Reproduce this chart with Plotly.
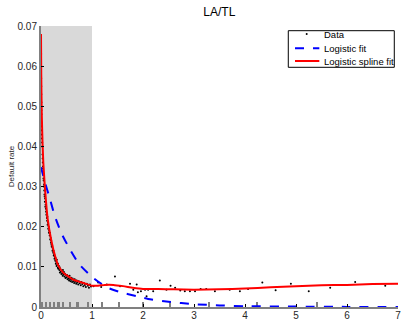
import plotly.graph_objects as go

# ---- data ----
data_x = [0.001, 0.002, 0.003, 0.004, 0.005, 0.006, 0.007, 0.008, 0.010, 0.012,
          0.014, 0.016, 0.018, 0.020, 0.023, 0.026, 0.029, 0.032, 0.035, 0.038,
          0.041, 0.044, 0.048, 0.052, 0.056, 0.060, 0.064, 0.068, 0.072, 0.076,
          0.080, 0.085, 0.090, 0.095, 0.100, 0.105, 0.110, 0.115, 0.120, 0.125,
          0.130, 0.137, 0.142, 0.150, 0.155, 0.160, 0.170, 0.175, 0.180, 0.190,
          0.195, 0.200, 0.205, 0.210, 0.220, 0.225, 0.230, 0.240, 0.245, 0.250,
          0.260, 0.265, 0.270, 0.280, 0.285, 0.290, 0.300, 0.305, 0.310, 0.320,
          0.330, 0.335, 0.340, 0.350, 0.360, 0.365, 0.370, 0.380, 0.390, 0.400,
          0.410, 0.420, 0.425, 0.430, 0.440, 0.450, 0.460, 0.470, 0.480, 0.490,
          0.500, 0.510, 0.520, 0.530, 0.540, 0.550, 0.560, 0.570, 0.580, 0.590,
          0.600, 0.610, 0.620, 0.635, 0.650, 0.660, 0.670, 0.690, 0.700, 0.710,
          0.730, 0.740, 0.760, 0.780, 0.790, 0.810, 0.830, 0.840, 0.860, 0.880,
          0.900, 0.920, 0.940, 0.960, 0.980,
          1.03, 1.12, 1.18, 1.29, 1.45, 1.55, 1.745, 1.81, 1.876, 1.90, 1.96,
          2.04, 2.07, 2.10, 2.20, 2.22, 2.33, 2.46, 2.54, 2.63, 2.73, 2.82,
          2.92, 3.02, 3.13, 3.24, 3.41, 3.70, 3.90, 4.06, 4.34, 4.60, 4.90,
          5.25, 5.67, 6.16, 6.75]
data_y = [0.067, 0.063, 0.060, 0.057, 0.055, 0.053, 0.051, 0.049, 0.048, 0.046,
          0.045, 0.044, 0.043, 0.042, 0.041, 0.040, 0.038, 0.037, 0.036, 0.035,
          0.0345, 0.033, 0.032, 0.0315, 0.030, 0.0305, 0.029, 0.028, 0.0275, 0.0262,
          0.027, 0.025, 0.0255, 0.0245, 0.0238, 0.0230, 0.0235, 0.0222, 0.0215, 0.0225,
          0.0205, 0.0210, 0.0195, 0.0200, 0.0185, 0.0190, 0.0178, 0.0185, 0.0168, 0.0172,
          0.0160, 0.0165, 0.0155, 0.0150, 0.0152, 0.0140, 0.0145, 0.0135, 0.0140, 0.0128,
          0.0130, 0.0120, 0.0125, 0.0115, 0.0122, 0.0108, 0.0112, 0.0102, 0.0118, 0.0105,
          0.0098, 0.0108, 0.0095, 0.0102, 0.0092, 0.0099, 0.0086, 0.0094, 0.0088, 0.0082,
          0.0090, 0.0085, 0.0078, 0.0092, 0.0081, 0.0087, 0.0076, 0.0083, 0.0072, 0.0079,
          0.0074, 0.0080, 0.0069, 0.0076, 0.0071, 0.0066, 0.0078, 0.0070, 0.0064, 0.0073,
          0.0068, 0.0062, 0.0071, 0.0065, 0.0060, 0.0069, 0.0063, 0.0058, 0.0066, 0.0061,
          0.0056, 0.0064, 0.0059, 0.0054, 0.0062, 0.0057, 0.0052, 0.0060, 0.0055, 0.0050,
          0.0058, 0.0053, 0.0048, 0.0056, 0.0051,
          0.0052, 0.0061, 0.0050, 0.0056, 0.0076, 0.0052, 0.0058, 0.0043, 0.0056, 0.0037, 0.0039,
          0.0043, 0.0027, 0.0043, 0.0039, 0.0045, 0.0066, 0.0043, 0.0053, 0.0048, 0.0041, 0.0039,
          0.0039, 0.0039, 0.0045, 0.0045, 0.0039, 0.0043, 0.0039, 0.0045, 0.0061, 0.0042, 0.0058,
          0.0039, 0.0048, 0.0062, 0.0053]

logit_x = [0, 0.08, 0.18, 0.27, 0.4, 0.57, 0.76, 1.03, 1.29, 1.55, 1.88, 2.1,
           2.5, 3.0, 3.5, 4.0, 5.0, 6.0, 7.0]
logit_y = [0.0348, 0.031, 0.0267, 0.0227, 0.0184, 0.0143, 0.0105, 0.0072, 0.0049,
           0.0037, 0.0027, 0.0020, 0.0013, 0.0007, 0.0004, 0.0002, 0.0001, 0.00003, 0.00001]

spline_x = [0, 0.005, 0.015, 0.03, 0.045, 0.07, 0.1, 0.13, 0.2, 0.28, 0.34, 0.44,
            0.55, 0.63, 0.75, 0.85, 1.0, 1.12, 1.25, 1.42, 1.61, 1.8, 2.0, 2.3,
            2.6, 3.0, 3.5, 4.0, 4.5, 5.0, 5.5, 6.0, 6.5, 7.0]
spline_y = [0.068, 0.058, 0.048, 0.041, 0.036, 0.031, 0.026, 0.022, 0.0167, 0.0125,
            0.0103, 0.0085, 0.0075, 0.0068, 0.0063, 0.0059, 0.0053, 0.0053, 0.0055,
            0.0055, 0.0052, 0.0048, 0.0045, 0.0045, 0.0044, 0.0043, 0.0044, 0.0046,
            0.0049, 0.0052, 0.0054, 0.0055, 0.0057, 0.0058]

rug_x = [0.03, 0.1, 0.18, 0.26, 0.35, 0.44, 0.57, 0.72, 0.93, 1.2, 1.54, 2.0,
         2.54, 3.3, 4.24, 5.42]
rug_h = [0.0012] * len(rug_x)

x_ticks = [0, 1, 2, 3, 4, 5, 6, 7]
y_ticks = [0, 0.01, 0.02, 0.03, 0.04, 0.05, 0.06, 0.07]
y_tick_text = ["0", "0.01", "0.02", "0.03", "0.04", "0.05", "0.06", "0.07"]

legend_names = ["Data", "Logistic fit", "Logistic spline fit"]

FONT = "Liberation Sans, Arial, Helvetica, sans-serif"
BLUE = "#0000ff"
RED = "#ff0000"

fig = go.Figure()
fig.add_trace(go.Bar(x=rug_x, y=rug_h, width=0.035, marker=dict(color="#808080", line=dict(width=0)),
                     showlegend=False, hoverinfo="skip"))
fig.add_trace(go.Scatter(x=data_x, y=data_y, mode="markers", name=legend_names[0],
                         marker=dict(color="black", size=2), showlegend=False))
fig.add_trace(go.Scatter(x=logit_x, y=logit_y, mode="lines", name=legend_names[1], showlegend=False,
                         line=dict(color=BLUE, width=2, dash="dash", shape="spline", smoothing=0.6)))
fig.add_trace(go.Scatter(x=spline_x, y=spline_y, mode="lines", name=legend_names[2], showlegend=False,
                         line=dict(color=RED, width=2, shape="spline", smoothing=0.5)))

fig.add_shape(type="rect", xref="x", yref="y", x0=0, x1=1, y0=0, y1=0.07,
              fillcolor="#d9d9d9", line=dict(width=0), layer="below")

# compact MATLAB-style legend box (paper coordinates)
lx0, lx1, ly0, ly1 = 0.6927, 0.9896, 0.853, 0.9833
row_y = [0.9715, 0.9206, 0.8754]
sym_x0, sym_x1, dot_x, text_x = 0.7115, 0.7796, 0.7443, 0.7863
fig.add_shape(type="rect", xref="paper", yref="paper", x0=lx0, x1=lx1, y0=ly0, y1=ly1,
              fillcolor="white", line=dict(color="black", width=1), layer="above")
fig.add_shape(type="line", xref="paper", yref="paper", x0=sym_x0, x1=sym_x1, y0=row_y[1], y1=row_y[1],
              line=dict(color=BLUE, width=2, dash="dash"), layer="above")
fig.add_shape(type="line", xref="paper", yref="paper", x0=sym_x0, x1=sym_x1, y0=row_y[2], y1=row_y[2],
              line=dict(color=RED, width=2), layer="above")
fig.add_shape(type="circle", xref="paper", yref="paper", xsizemode="pixel", ysizemode="pixel",
              xanchor=dot_x, yanchor=row_y[0], x0=-1, x1=1, y0=-1, y1=1,
              fillcolor="black", line=dict(width=0), layer="above")
for name, ry in zip(legend_names, row_y):
    fig.add_annotation(text=name, xref="paper", yref="paper", x=text_x, y=ry, xanchor="left",
                       yanchor="middle", showarrow=False, font=dict(size=9.5, color="black"))

fig.update_layout(
    width=401, height=320,
    margin=dict(l=41, r=3, t=26, b=13, autoexpand=False),
    paper_bgcolor="white", plot_bgcolor="white",
    font=dict(family=FONT, size=10, color="#262626"),
    title=dict(text="LA/TL", x=0.547, xanchor="center", y=0.962, yanchor="middle",
               font=dict(size=12, color="black")),
    showlegend=False,
    bargap=0,
)
fig.update_xaxes(range=[0, 7], tickvals=x_ticks, ticks="inside", ticklen=3, tickcolor="black",
                 showline=True, linecolor="#808080", linewidth=2, showgrid=False, zeroline=False,
                 tickfont=dict(size=10, color="#262626"), automargin=False,
                 ticklabeloverflow="allow", ticklabelstandoff=-2)
fig.update_yaxes(range=[0, 0.07], tickvals=y_ticks, ticktext=y_tick_text, ticks="inside", ticklen=3,
                 tickcolor="black", showline=True, linecolor="#808080", linewidth=2,
                 showgrid=False, zeroline=False, tickfont=dict(size=10, color="#262626"),
                 title=dict(text="Default rate", font=dict(size=8, color="#262626"), standoff=2),
                 automargin=False, ticklabeloverflow="allow")

fig.write_html("out.html", config={"displayModeBar": False},
               post_script="document.body.style.margin='0px';")
